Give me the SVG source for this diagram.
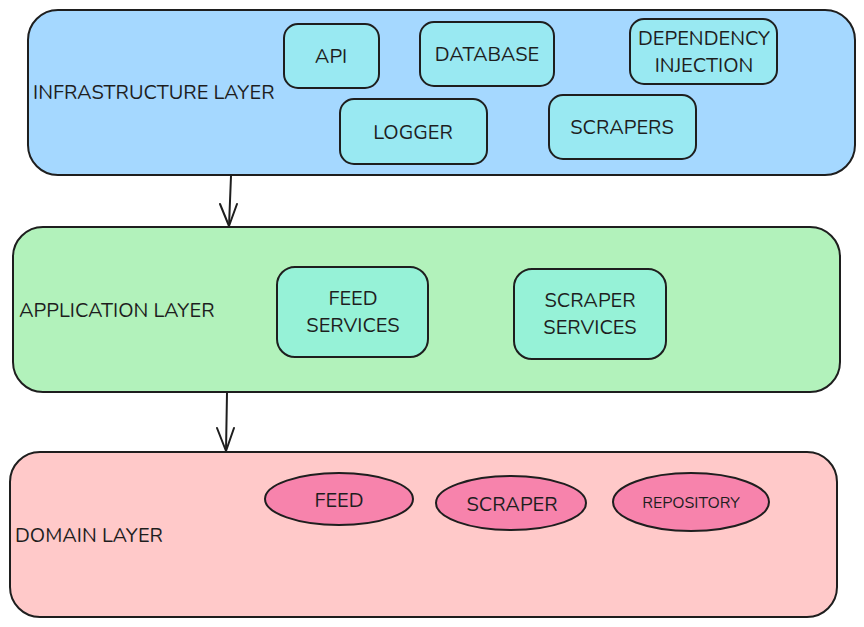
<svg xmlns="http://www.w3.org/2000/svg" width="864" height="627" viewBox="0 0 864 627">
<style>
  .s{stroke:#1e1e1e;stroke-width:2;stroke-linejoin:round}
  .infra{fill:#a5d8ff}
  .ibox{fill:#99e9f2}
  .app{fill:#b2f2bb}
  .abox{fill:#96f2d7}
  .dom{fill:#ffc9c9}
  .ell{fill:#f783ac}
  text{font-family:"Nunito","Noto Sans","Liberation Sans",sans-serif;font-size:20px;fill:#1e1e1e;dominant-baseline:central}
  .c{text-anchor:middle}
  .conn{fill:none;stroke:#1e1e1e;stroke-width:2;stroke-linecap:round;stroke-linejoin:round}
</style>
<rect width="864" height="627" fill="#ffffff"/>
<g id="infrastructure-layer">
  <rect class="s infra" x="28" y="10" width="827" height="165" rx="30"/>
  <text x="33" y="92">INFRASTRUCTURE LAYER</text>
</g>
<g id="api">
  <rect class="s ibox" x="284" y="24" width="95" height="64" rx="14"/>
  <text class="c" x="331" y="56">API</text>
</g>
<g id="database">
  <rect class="s ibox" x="420" y="22" width="134" height="64" rx="14"/>
  <text class="c" x="487" y="54">DATABASE</text>
</g>
<g id="dependency-injection">
  <rect class="s ibox" x="630" y="19" width="147" height="65" rx="14"/>
  <text class="c" x="704" y="38">DEPENDENCY</text>
  <text class="c" x="704" y="65">INJECTION</text>
</g>
<g id="logger">
  <rect class="s ibox" x="340" y="99" width="147" height="65" rx="14"/>
  <text class="c" x="413" y="132">LOGGER</text>
</g>
<g id="scrapers">
  <rect class="s ibox" x="549" y="95" width="147" height="64" rx="14"/>
  <text class="c" x="622" y="127">SCRAPERS</text>
</g>
<g id="application-layer">
  <rect class="s app" x="13" y="227" width="827" height="165" rx="30"/>
  <text x="19" y="310">APPLICATION LAYER</text>
</g>
<g id="feed-services">
  <rect class="s abox" x="277" y="267" width="151" height="90" rx="18"/>
  <text class="c" x="353" y="298">FEED</text>
  <text class="c" x="353" y="325">SERVICES</text>
</g>
<g id="scraper-services">
  <rect class="s abox" x="514" y="269" width="152" height="90" rx="18"/>
  <text class="c" x="590" y="300">SCRAPER</text>
  <text class="c" x="590" y="327">SERVICES</text>
</g>
<g id="domain-layer">
  <rect class="s dom" x="10" y="452" width="827" height="165" rx="30"/>
  <text x="15" y="535">DOMAIN LAYER</text>
</g>
<g id="feed">
  <ellipse class="s ell" cx="339" cy="499" rx="74" ry="26"/>
  <text class="c" x="339" y="500">FEED</text>
</g>
<g id="scraper">
  <ellipse class="s ell" cx="511" cy="503" rx="75" ry="27"/>
  <text class="c" x="512" y="504">SCRAPER</text>
</g>
<g id="repository">
  <ellipse class="s ell" cx="691" cy="502" rx="78" ry="29"/>
  <text class="c" x="691" y="503" style="font-size:16px">REPOSITORY</text>
</g>
<g id="connectors">
  <path class="conn" d="M231 176 L229 226"/>
  <path class="conn" d="M220 204 L229 226 L237 204"/>
  <path class="conn" d="M227 393 L226 451"/>
  <path class="conn" d="M217 428 L226 451 L234 428"/>
</g>
</svg>
